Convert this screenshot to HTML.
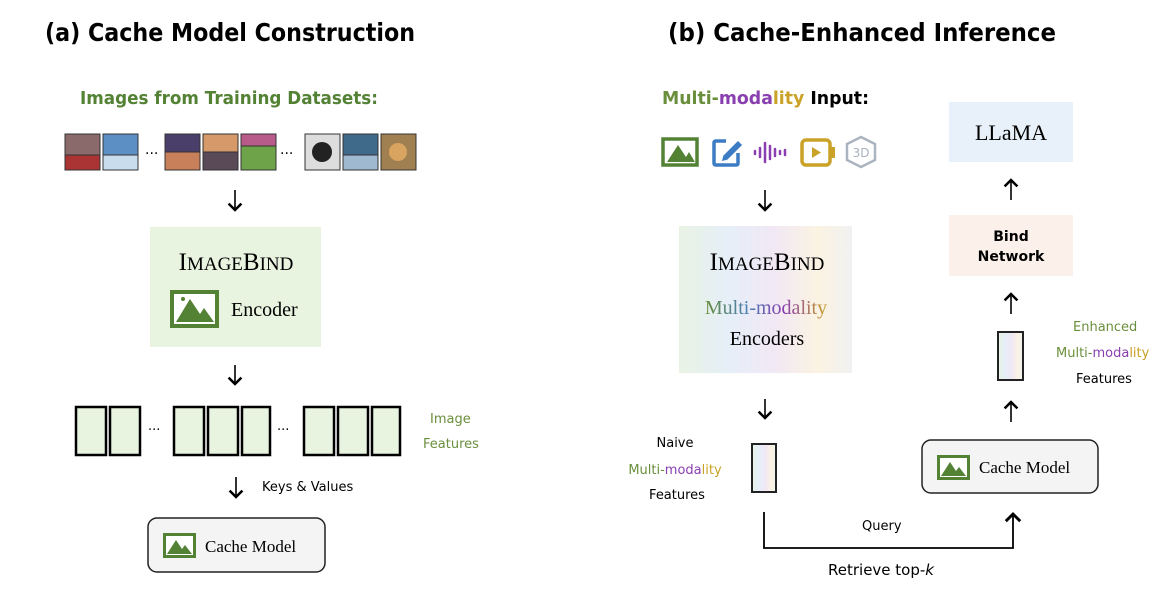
<!DOCTYPE html>
<html><head><meta charset="utf-8"><style>
html,body{margin:0;padding:0;background:#fff;}
svg{display:block;}
.c{font-family:"DejaVu Sans","Liberation Sans",sans-serif;}
.s{font-family:"Liberation Serif",serif;}
</style></head><body>
<svg width="1167" height="590" viewBox="0 0 1167 590" xmlns="http://www.w3.org/2000/svg">
<defs>
<linearGradient id="rb" x1="0" y1="0" x2="1" y2="0">
<stop offset="0" stop-color="#e8f3e4"/><stop offset="0.3" stop-color="#e6eef8"/><stop offset="0.55" stop-color="#f1e8f5"/><stop offset="0.8" stop-color="#fbf3e2"/><stop offset="1" stop-color="#f1f1f1"/>
</linearGradient>
<linearGradient id="tm" x1="0" y1="0" x2="1" y2="0">
<stop offset="0" stop-color="#6a8f3c"/><stop offset="0.35" stop-color="#4a7fb5"/><stop offset="0.65" stop-color="#8a3fb0"/><stop offset="1" stop-color="#c9a227"/>
</linearGradient>
<marker id="ah" markerWidth="10" markerHeight="10" refX="5" refY="5" orient="auto"><path d="M1,1 L5,5 L1,9" fill="none" stroke="#000" stroke-width="1.6"/></marker>
</defs>

<!-- titles -->
<text x="45" y="41" class="c" font-size="25" font-weight="bold" textLength="370" lengthAdjust="spacingAndGlyphs">(a) Cache Model Construction</text>
<text x="668" y="41" class="c" font-size="25" font-weight="bold" textLength="388" lengthAdjust="spacingAndGlyphs">(b) Cache-Enhanced Inference</text>

<!-- left -->
<text x="80" y="104" class="c" font-size="18" font-weight="bold" fill="#548235" textLength="298" lengthAdjust="spacingAndGlyphs">Images from Training Datasets:</text>
<g stroke="#333" stroke-width="1">
<rect x="65" y="134" width="35" height="36" fill="#8a6a6a"/><rect x="65" y="155" width="35" height="15" fill="#a33"/>
<rect x="103" y="134" width="35" height="36" fill="#5c8fc4"/><rect x="103" y="155" width="35" height="15" fill="#c9dcee"/>
<rect x="165" y="134" width="35" height="36" fill="#4a3f6a"/><rect x="165" y="152" width="35" height="18" fill="#c8805a"/>
<rect x="203" y="134" width="35" height="36" fill="#d69a6a"/><rect x="203" y="152" width="35" height="18" fill="#5a4a58"/>
<rect x="241" y="134" width="35" height="36" fill="#6ea34a"/><rect x="241" y="134" width="35" height="12" fill="#b95b8a"/>
<rect x="305" y="134" width="35" height="36" fill="#ddd"/><circle cx="322" cy="152" r="10" fill="#222" stroke="none"/>
<rect x="343" y="134" width="35" height="36" fill="#3f6a8a"/><rect x="343" y="155" width="35" height="15" fill="#9fbad0"/>
<rect x="381" y="134" width="35" height="36" fill="#a08050"/><circle cx="398" cy="152" r="9" fill="#d9a460" stroke="none"/>
</g>
<text x="145" y="158" class="c" font-size="14">···</text>
<text x="280" y="158" class="c" font-size="14">···</text>

<line x1="235" y1="190" x2="235" y2="210" stroke="#000" stroke-width="1.6" marker-end="url(#ah)"/>
<rect x="150" y="227" width="171" height="120" fill="#e8f3e0"/>
<text x="236" y="270" class="s" font-size="25" text-anchor="middle">I<tspan font-size="19">MAGE</tspan>B<tspan font-size="19">IND</tspan></text>
<g transform="translate(170,290)"><rect x="2" y="2" width="45" height="34" fill="#fff" stroke="#548235" stroke-width="4"/><path d="M6,32 L20,9 L30,24 L34,18 L44,32 Z" fill="#548235"/><circle cx="13" cy="9" r="2" fill="#548235"/></g>
<text x="231" y="316" class="s" font-size="20">Encoder</text>

<line x1="235" y1="365" x2="235" y2="384" stroke="#000" stroke-width="1.6" marker-end="url(#ah)"/>
<g fill="#e8f3e0" stroke="#000" stroke-width="2.5">
<rect x="76" y="407" width="30" height="48"/><rect x="110" y="407" width="30" height="48"/>
<rect x="174" y="407" width="30" height="48"/><rect x="208" y="407" width="30" height="48"/><rect x="242" y="407" width="28" height="48"/>
<rect x="304" y="407" width="30" height="48"/><rect x="338" y="407" width="30" height="48"/><rect x="372" y="407" width="28" height="48"/>
</g>
<text x="148" y="434" class="c" font-size="13">···</text>
<text x="277" y="434" class="c" font-size="13">···</text>
<text x="430" y="423" class="c" font-size="13" fill="#6a8f3c">Image</text>
<text x="423" y="448" class="c" font-size="13" fill="#6a8f3c">Features</text>

<line x1="236" y1="477" x2="236" y2="497" stroke="#000" stroke-width="1.6" marker-end="url(#ah)"/>
<text x="262" y="491" class="c" font-size="13">Keys &amp; Values</text>
<rect x="148" y="518" width="177" height="54" rx="9" fill="#f4f4f4" stroke="#222" stroke-width="1.5"/>
<g transform="translate(163,533)"><rect x="1.5" y="1.5" width="30" height="22" fill="#fff" stroke="#548235" stroke-width="3"/><path d="M4,21 L13,7 L19,16 L22,12 L29,21 Z" fill="#548235"/></g>
<text x="205" y="552" class="s" font-size="17">Cache Model</text>

<!-- right -->
<text x="662" y="104" class="c" font-size="18" font-weight="bold" textLength="207" lengthAdjust="spacingAndGlyphs"><tspan fill="#6a8f3c">Multi-</tspan><tspan fill="#8a3fb0">moda</tspan><tspan fill="#c9a227">lity</tspan><tspan fill="#000"> Input:</tspan></text>
<g transform="translate(661,137)"><rect x="2" y="2" width="34" height="26" fill="#fff" stroke="#548235" stroke-width="3.5"/><path d="M6,25 L17,8 L25,20 L28,15 L34,25 Z" fill="#548235"/></g>
<g transform="translate(712,137)" fill="none" stroke="#3b7cc4" stroke-width="3.5"><path d="M14,4 H4 Q2,4 2,6 V26 Q2,28 4,28 H24 Q26,28 26,26 V16"/><path d="M12,19 L26,5 L29,8 L15,22 L11,23 Z" fill="#3b7cc4" stroke-width="1.5"/></g>
<g transform="translate(753,140)" stroke="#8a3fb0" stroke-width="2.5" stroke-linecap="round"><line x1="2" y1="11" x2="2" y2="14"/><line x1="7" y1="8" x2="7" y2="17"/><line x1="12" y1="3" x2="12" y2="22"/><line x1="17" y1="6" x2="17" y2="19"/><line x1="22" y1="9" x2="22" y2="16"/><line x1="27" y1="11" x2="27" y2="14"/><line x1="32" y1="10" x2="32" y2="15"/></g>
<g transform="translate(800,138)"><rect x="2" y="2" width="28" height="25" rx="4" fill="none" stroke="#c9a227" stroke-width="3.5"/><rect x="30" y="9" width="5" height="11" fill="#c9a227"/><path d="M12,9 L21,14.5 L12,20 Z" fill="#c9a227"/></g>
<g transform="translate(845,136)"><path d="M16,1 L30,8 L30,24 L16,31 L2,24 L2,8 Z" fill="none" stroke="#a9b4c0" stroke-width="2.5"/><text x="16" y="21" font-size="12" text-anchor="middle" fill="#a9b4c0" class="c">3D</text></g>

<line x1="765" y1="190" x2="765" y2="210" stroke="#000" stroke-width="1.6" marker-end="url(#ah)"/>
<rect x="679" y="226" width="173" height="147" fill="url(#rb)"/>
<text x="767" y="270" class="s" font-size="25" text-anchor="middle">I<tspan font-size="19">MAGE</tspan>B<tspan font-size="19">IND</tspan></text>
<text x="766" y="314" class="s" font-size="20" text-anchor="middle" fill="url(#tm)">Multi-modality</text>
<text x="767" y="345" class="s" font-size="20" text-anchor="middle">Encoders</text>

<line x1="765" y1="399" x2="765" y2="418" stroke="#000" stroke-width="1.6" marker-end="url(#ah)"/>
<text x="675" y="447" class="c" font-size="13" text-anchor="middle">Naive</text>
<text x="675" y="474" class="c" font-size="13" text-anchor="middle"><tspan fill="#6a8f3c">Multi-</tspan><tspan fill="#8a3fb0">moda</tspan><tspan fill="#c9a227">lity</tspan></text>
<text x="677" y="499" class="c" font-size="13" text-anchor="middle">Features</text>
<rect x="752" y="444" width="24" height="48" fill="url(#rb)" stroke="#222" stroke-width="2"/>

<polyline points="764,512 764,548 1013,548 1013,514" fill="none" stroke="#000" stroke-width="1.8" marker-end="url(#ah)"/>
<text x="862" y="530" class="c" font-size="13">Query</text>
<text x="828" y="575" class="c" font-size="15">Retrieve top-<tspan font-style="italic">k</tspan></text>

<rect x="922" y="440" width="176" height="53" rx="9" fill="#f4f4f4" stroke="#222" stroke-width="1.5"/>
<g transform="translate(937,455)"><rect x="1.5" y="1.5" width="30" height="22" fill="#fff" stroke="#548235" stroke-width="3"/><path d="M4,21 L13,7 L19,16 L22,12 L29,21 Z" fill="#548235"/></g>
<text x="979" y="473" class="s" font-size="17">Cache Model</text>

<line x1="1011" y1="422" x2="1011" y2="402" stroke="#000" stroke-width="1.6" marker-end="url(#ah)"/>
<rect x="998" y="332" width="25" height="48" fill="url(#rb)" stroke="#222" stroke-width="2"/>
<text x="1073" y="331" class="c" font-size="13" fill="#6a8f3c">Enhanced</text>
<text x="1056" y="357" class="c" font-size="13"><tspan fill="#6a8f3c">Multi-</tspan><tspan fill="#8a3fb0">moda</tspan><tspan fill="#c9a227">lity</tspan></text>
<text x="1076" y="383" class="c" font-size="13">Features</text>

<line x1="1011" y1="314" x2="1011" y2="294" stroke="#000" stroke-width="1.6" marker-end="url(#ah)"/>
<rect x="949" y="215" width="124" height="61" fill="#fbf1ea"/>
<text x="1011" y="241" class="c" font-size="14" font-weight="bold" text-anchor="middle">Bind</text>
<text x="1011" y="261" class="c" font-size="14" font-weight="bold" text-anchor="middle">Network</text>

<line x1="1011" y1="200" x2="1011" y2="180" stroke="#000" stroke-width="1.6" marker-end="url(#ah)"/>
<rect x="949" y="102" width="124" height="60" fill="#e8f1f9"/>
<text x="1011" y="140" class="s" font-size="22" text-anchor="middle">LLaMA</text>
</svg>
</body></html>
